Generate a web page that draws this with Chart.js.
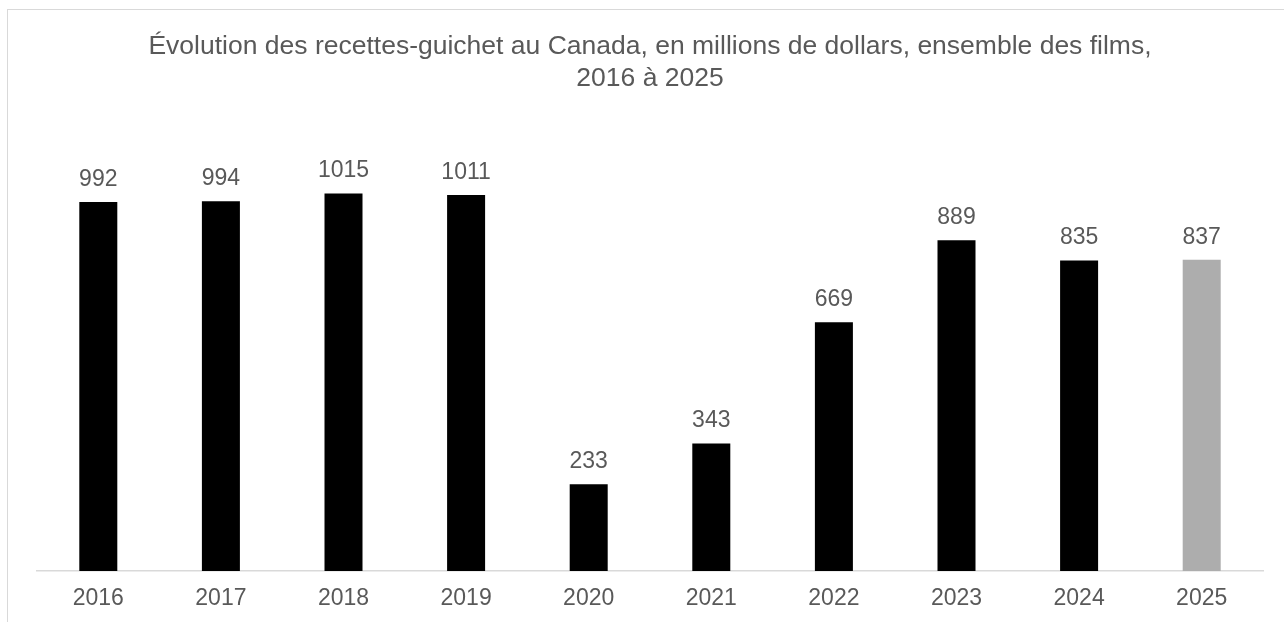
<!DOCTYPE html>
<html lang="fr">
<head>
<meta charset="utf-8">
<script src="https://cdn.jsdelivr.net/npm/chart.js@4.4.1/dist/chart.umd.min.js"></script>
<style>
  html, body { margin: 0; padding: 0; background: #fff; overflow: hidden; }
  #wrap { position: relative; width: 1284px; height: 622px; }
  #frame { position: absolute; left: 7px; top: 9px; width: 1400px; height: 700px; border: 1.5px solid #d9d9d9; box-sizing: border-box; }
  canvas { position: absolute; left: 0; top: 0; }
</style>
</head>
<body>
<div id="wrap">
  <div id="frame"></div>
  <canvas id="chart" width="1284" height="622"></canvas>
</div>
<script>
const years = ['2016', '2017', '2018', '2019', '2020', '2021', '2022', '2023', '2024', '2025'];
const recettes = [992, 994, 1015, 1011, 233, 343, 669, 889, 835, 837];
const barColors = ['#000000', '#000000', '#000000', '#000000', '#000000', '#000000', '#000000', '#000000', '#000000', '#adadad'];
const titleLines = ['Évolution des recettes-guichet au Canada, en millions de dollars, ensemble des films,', '2016 à 2025'];

const FONT = "'Liberation Sans', Arial, sans-serif";
const TEXT = '#595959';

// labels above bars, drawn from the bar elements
const valueLabels = {
    id: 'valueLabels',
    afterDatasetsDraw(chart) {
        const ctx = chart.ctx;
        const meta = chart.getDatasetMeta(0);
        ctx.save();
        ctx.font = '23px ' + FONT;
        ctx.fillStyle = TEXT;
        ctx.textAlign = 'center';
        ctx.textBaseline = 'alphabetic';
        meta.data.forEach((bar, i) => {
            ctx.fillText(String(recettes[i]), bar.x, bar.y - 16);
        });
        ctx.restore();
    }
};

new Chart(document.getElementById('chart'), {
    type: 'bar',
    data: {
        labels: years,
        datasets: [{
            data: recettes,
            backgroundColor: barColors,
            borderWidth: 0,
            categoryPercentage: 1,
            barPercentage: 0.31
        }]
    },
    options: {
        responsive: false,
        animation: false,
        devicePixelRatio: 1,
        layout: { padding: { left: 37, right: 21, top: 0, bottom: 0 } },
        plugins: {
            legend: { display: false },
            tooltip: { enabled: false },
            title: {
                display: true,
                text: titleLines,
                color: TEXT,
                font: { family: FONT, size: 26.5, weight: 'normal', lineHeight: 1.2 },
                padding: { top: 31, bottom: 30 }
            }
        },
        scales: {
            x: {
                grid: { display: false, drawTicks: false },
                border: { display: true, color: '#d9d9d9', width: 1.5 },
                ticks: { color: TEXT, padding: 14, font: { family: FONT, size: 23 } },
                afterFit(scale) { scale.height = 51; }
            },
            y: {
                display: false,
                min: 0,
                max: 1200
            }
        }
    },
    plugins: [valueLabels]
});
</script>
</body>
</html>
